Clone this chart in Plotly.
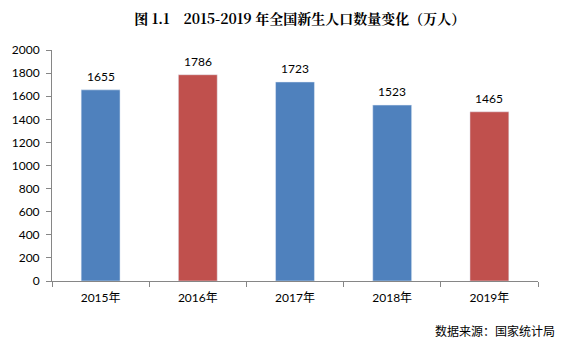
import plotly.graph_objects as go

years = ["2015年", "2016年", "2017年", "2018年", "2019年"]
births = [1655, 1786, 1723, 1523, 1465]
colors = ["#4F81BD", "#C0504D", "#4F81BD", "#4F81BD", "#C0504D"]
y_ticks = list(range(0, 2001, 200))

fig = go.Figure(go.Bar(
    x=years, y=births, marker_color=colors, width=0.4,
    hoverinfo="x+y",
))

for yr, v in zip(years, births):
    fig.add_annotation(x=yr, y=v, text=str(v), showarrow=False, yanchor="bottom",
                       yshift=4, font=dict(family="Lato, Noto Sans CJK SC", size=12, color="#000000"))

fig.add_annotation(text="数据来源：国家统计局", xref="paper", yref="paper",
                   x=1.039, y=-0.216, xanchor="right", yanchor="middle", showarrow=False,
                   font=dict(family="Noto Sans CJK SC", size=12, color="#000000"))

fig.update_layout(
    width=560, height=354,
    margin=dict(l=44, r=30, t=42, b=81),
    plot_bgcolor="white", paper_bgcolor="white",
    showlegend=False,
    title=dict(text="<b>图 1.1　2015-2019 年全国新生人口数量变化（万人）</b>",
               x=0.521, xanchor="center", y=0.969, yanchor="middle",
               font=dict(family="Noto Serif CJK SC, Noto Sans CJK SC", size=14, color="#000000")),
    font=dict(family="Lato, Noto Sans CJK SC", size=12, color="#000000"),
)
fig.update_yaxes(range=[0, 2000], tickvals=y_ticks, showgrid=False, showline=True,
                 linecolor="#868686", linewidth=1, ticks="outside", ticklen=5,
                 tickcolor="#868686", tickfont=dict(size=12), zeroline=False,
                 automargin=False, ticklabelstandoff=4)
fig.update_xaxes(showgrid=False, showline=True, linecolor="#868686", linewidth=1,
                 ticks="outside", ticklen=5, tickcolor="#868686", tickson="boundaries",
                 tickfont=dict(size=12, family="Lato, Noto Sans CJK SC"),
                 automargin=False, ticklabelstandoff=6)

fig.write_html("out.html")
